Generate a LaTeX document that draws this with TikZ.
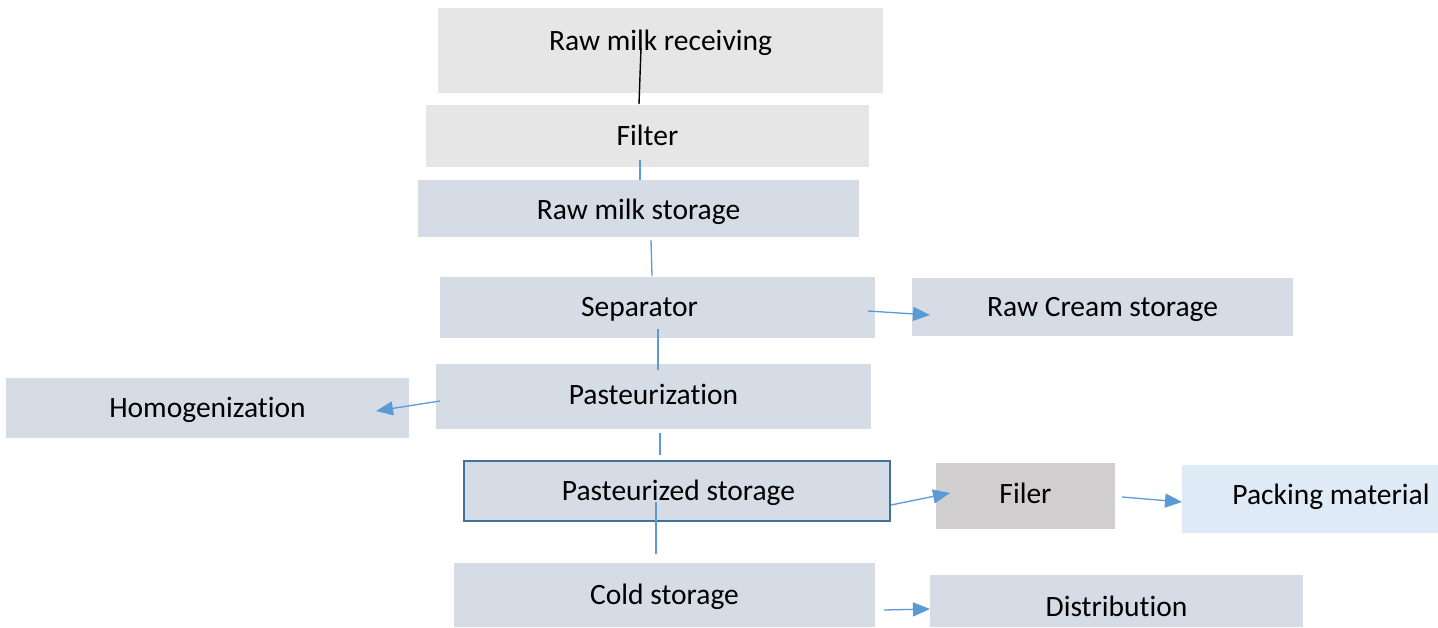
\documentclass[tikz,border=0pt]{standalone}
\usepackage{fontspec}
\setmainfont{Carlito}[Ligatures=NoCommon]
\usetikzlibrary{arrows.meta}
\definecolor{boxgray}{HTML}{E7E6E6}
\definecolor{boxblue}{HTML}{D6DCE5}
\definecolor{filergray}{HTML}{D0CECE}
\definecolor{packblue}{HTML}{DEEBF7}
\definecolor{edgeblue}{HTML}{41719C}
\definecolor{linkblue}{HTML}{5B9BD5}
\tikzset{
  box/.style={rectangle, inner sep=0pt, draw=none},
  lbl/.style={font=\fontsize{29.5}{35}\selectfont, text height=0.75em, text depth=0.2em, inner sep=0pt},
  link/.style={draw=linkblue, line width=1.3pt},
  arrowlink/.style={link, -{Triangle[length=17pt,width=14pt]}, fill=linkblue},
}
\begin{document}
\begin{tikzpicture}[x=1pt,y=-1pt]
\useasboundingbox (0,0) rectangle (1438,627);
\fill[white] (0,0) rectangle (1438,627);

\node[box, fill=boxgray, minimum width=445pt, minimum height=85pt,
  label={[lbl,yshift=3pt]center:Raw milk receiving}] (rmr) at (660.5,50.5) {};
\node[box, fill=boxgray, minimum width=443pt, minimum height=62pt,
  label={[lbl,yshift=-6.5pt]center:Filter}] (filter) at (647.5,136) {};
\node[box, fill=boxblue, minimum width=441pt, minimum height=57pt,
  label={[lbl,yshift=-8pt]center:Raw milk storage}] (rms) at (638.5,208.5) {};
\node[box, fill=boxblue, minimum width=435pt, minimum height=61pt,
  label={[lbl,xshift=-18pt,yshift=-6.5pt]center:Separator}] (sep) at (657.5,307.5) {};
\node[box, fill=boxblue, minimum width=381pt, minimum height=58pt,
  label={[lbl,yshift=-7pt]center:Raw Cream storage}] (cream) at (1102.5,307) {};
\node[box, fill=boxblue, minimum width=403pt, minimum height=60pt,
  label={[lbl,yshift=-7pt]center:Homogenization}] (homog) at (207.5,408) {};
\node[box, fill=boxblue, minimum width=435pt, minimum height=65pt,
  label={[lbl,yshift=-5pt]center:Pasteurization}] (past) at (653.5,396.5) {};
\node[box, fill=boxblue, draw=edgeblue, line width=2pt, minimum width=426pt, minimum height=60pt,
  label={[lbl,xshift=1.5pt,yshift=-6.5pt]center:Pasteurized storage}] (pst) at (677,491) {};
\node[box, fill=filergray, minimum width=179pt, minimum height=66pt,
  label={[lbl,yshift=-4.5pt]center:Filer}] (filer) at (1025.5,496) {};
\node[box, fill=packblue, minimum width=256pt, minimum height=68pt,
  label={[lbl,xshift=21pt,yshift=-2.5pt]center:Packing material}] (pack) at (1310,499) {};
\node[box, fill=boxblue, minimum width=421pt, minimum height=64pt,
  label={[lbl,yshift=-6.5pt]center:Cold storage}] (cold) at (664.5,595) {};
\node[box, fill=boxblue, minimum width=373pt, minimum height=52pt,
  label={[lbl,yshift=-12.5pt]center:Distribution}] (dist) at (1116.5,601) {};

% connector end points
\coordinate (c1a) at (641,48);  \coordinate (c1b) at (639,104);
\coordinate (c2a) at (640,160); \coordinate (c2b) at (640,180);
\coordinate (c3a) at (651,240); \coordinate (c3b) at (652,276);
\coordinate (c4a) at (658,329); \coordinate (c4b) at (658,370);
\coordinate (c5a) at (660,433); \coordinate (c5b) at (660,455);
\coordinate (c6a) at (656,502); \coordinate (c6b) at (656,554);
\coordinate (a1a) at (868,311); \coordinate (a1b) at (930,315);
\coordinate (a2a) at (440,401); \coordinate (a2b) at (376,411);
\coordinate (a3a) at (891,505); \coordinate (a3b) at (950,493);
\coordinate (a4a) at (1122,497); \coordinate (a4b) at (1182,502);
\coordinate (a5a) at (884,610); \coordinate (a5b) at (930,609);

\draw[black, line width=1.4pt] (c1a) -- (c1b);
\draw[link] (c2a) -- (c2b);
\draw[link] (c3a) -- (c3b);
\draw[link] (c4a) -- (c4b);
\draw[link] (c5a) -- (c5b);
\draw[link] (c6a) -- (c6b);
\draw[arrowlink] (a1a) -- (a1b);
\draw[arrowlink] (a2a) -- (a2b);
\draw[arrowlink] (a3a) -- (a3b);
\draw[arrowlink] (a4a) -- (a4b);
\draw[arrowlink] (a5a) -- (a5b);
\end{tikzpicture}
\end{document}
